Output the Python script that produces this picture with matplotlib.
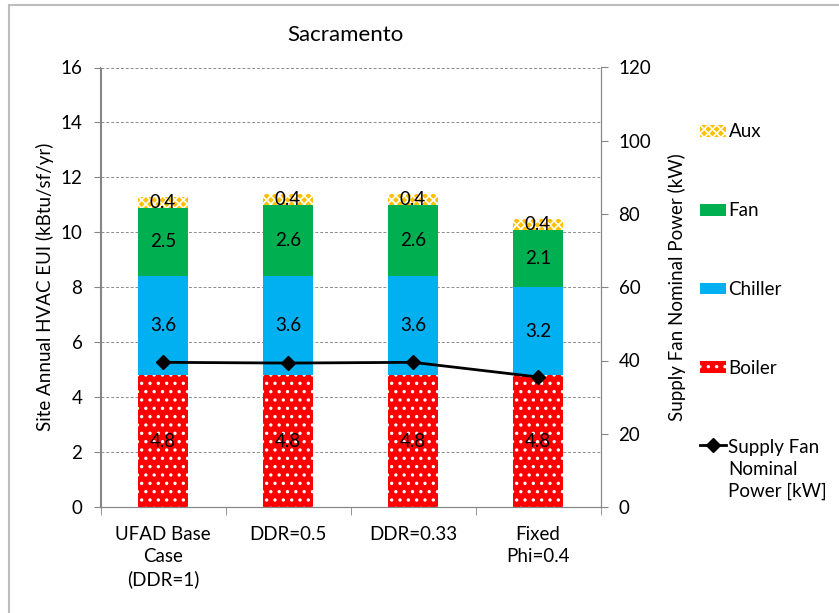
#!/usr/bin/env python3
'''
Stacked HVAC site EUI by end use, with supply fan nominal power on a second axis
'''
import matplotlib.pyplot as plt
import numpy as np
from matplotlib.legend_handler import HandlerLine2D
from matplotlib.lines import Line2D

plt.rcParams['font.family'] = ['Lato', 'DejaVu Sans']
plt.rcParams['hatch.linewidth'] = 1.2

cases = ['UFAD Base\nCase\n(DDR=1)', 'DDR=0.5', 'DDR=0.33', 'Fixed\nPhi=0.4']
boiler = [4.8, 4.8, 4.8, 4.8]
chiller = [3.6, 3.6, 3.6, 3.2]
fan = [2.5, 2.6, 2.6, 2.1]
aux = [0.4, 0.4, 0.4, 0.4]
fan_power = [39.5, 39.3, 39.5, 35.5]

GRID = '#8c8c8c'
SPINE = '#868686'
FS = 13.5


class TopLineHandler(HandlerLine2D):
    ''' Line legend handle lifted to sit beside the first line of its label '''
    def __init__(self, shift, **kw):
        super().__init__(**kw)
        self.shift = shift

    def create_artists(self, *args, **kwargs):
        artists = super().create_artists(*args, **kwargs)
        for a in artists:
            a.set_ydata(np.asarray(a.get_ydata()) + self.shift)
        return artists


def main():
    ''' Build the figure and save it '''
    fig = plt.figure(figsize=(8.39, 6.13), dpi=100)
    ax = fig.add_axes([100.5 / 839, 1 - 507 / 613, 500 / 839, (507 - 67.5) / 613])
    ax2 = ax.twinx()

    x = np.arange(len(cases))
    width = 0.4
    bottom = np.zeros(len(cases))
    series = [
        ('Boiler', boiler, '#ff0000', '..'),
        ('Chiller', chiller, '#00b0f0', None),
        ('Fan', fan, '#00b050', None),
        ('Aux', aux, '#ffc000', 'xxxx'),
    ]
    handles = {}
    for name, vals, color, hatch in series:
        vals = np.array(vals)
        bars = ax.bar(x, vals, width, bottom=bottom, color=color,
                      edgecolor='white' if hatch else color,
                      linewidth=0, hatch=hatch, label=name, zorder=2)
        handles[name] = bars
        for xi, b, v in zip(x, bottom, vals):
            ax.text(xi, b + v / 2, '%.1f' % v, ha='center', va='center',
                    fontsize=FS, color='black', zorder=4)
        bottom += vals

    ax.set_xlim(-0.5, len(cases) - 0.5)
    ax.set_ylim(0, 16)
    ax.set_yticks(range(0, 17, 2))
    ax.yaxis.grid(True, linestyle=(0, (3, 2)), color=GRID, linewidth=0.7)
    ax.set_axisbelow(True)
    ax.set_xticks(x)
    ax.set_xticklabels(cases, fontsize=FS, linespacing=1.35)
    ax.set_xticks(np.arange(-0.5, len(cases), 1), minor=True)
    ax.tick_params(axis='x', which='major', length=0, pad=14)
    ax.tick_params(axis='x', which='minor', length=6, color=SPINE)
    ax.tick_params(axis='y', labelsize=FS, length=5, color=SPINE, pad=8)
    ax.set_ylabel('Site Annual HVAC EUI (kBtu/sf/yr)', fontsize=FS, labelpad=5)

    line, = ax2.plot(x, fan_power, color='black', linewidth=2, marker='D',
                     markersize=7, label='Supply Fan\nNominal\nPower [kW]', zorder=5)
    ax2.set_ylim(0, 120)
    ax2.set_yticks(range(0, 121, 20))
    ax2.tick_params(axis='y', labelsize=FS, length=5, color=SPINE, pad=8)
    ax2.set_ylabel('Supply Fan Nominal Power (kW)', fontsize=FS, labelpad=12)

    for a in (ax, ax2):
        a.spines['top'].set_visible(False)
        for side in ('left', 'right', 'bottom'):
            a.spines[side].set_color(SPINE)

    order = ['Aux', 'Fan', 'Chiller', 'Boiler']
    leg = fig.legend([handles[n] for n in order] + [line], order + [line.get_label()],
                     loc='upper left', bbox_to_anchor=(691 / 839, 1 - 114 / 613),
                     frameon=False, fontsize=FS, labelspacing=3.3, borderpad=0,
                     handlelength=1.35, handleheight=0.6, handletextpad=0.15,
                     handler_map={line: TopLineHandler(shift=FS * 1.35)})
    for t in leg.get_texts():
        t.set_linespacing(1.35)

    fig.text(345 / 839, 1 - 35 / 613, 'Sacramento', ha='center', va='center',
             fontsize=16)

    # thin frame along the top and left edges
    fig.add_artist(Line2D([8.5 / 839, 8.5 / 839], [0, 1 - 5 / 613],
                          color='#bdbdbd', linewidth=1.5, transform=fig.transFigure))
    fig.add_artist(Line2D([8.5 / 839, 1], [1 - 5 / 613, 1 - 5 / 613],
                          color='#bdbdbd', linewidth=1.5, transform=fig.transFigure))

    fig.savefig('out.png', dpi=100, facecolor='white')


if __name__ == "__main__":
    main()
